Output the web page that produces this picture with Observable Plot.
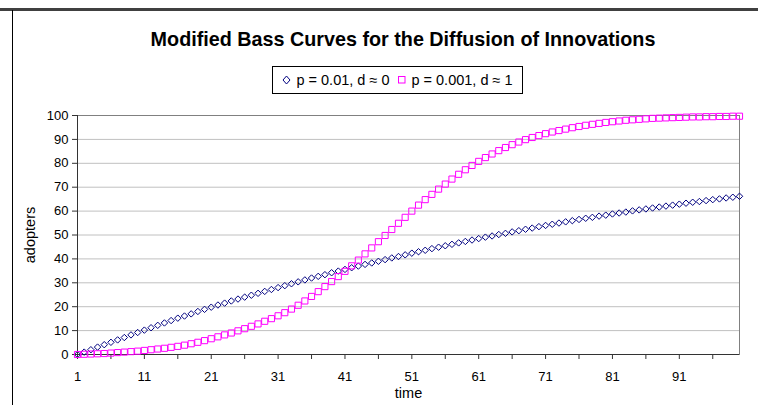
<!DOCTYPE html>
<html><head><meta charset="utf-8">
<script src="https://cdn.jsdelivr.net/npm/d3@7"></script>
<script src="https://cdn.jsdelivr.net/npm/@observablehq/plot@0.6"></script>
<style>
body{margin:0;background:#fff;font-family:"Liberation Sans",Arial,sans-serif;overflow:hidden;}
#wrap{position:relative;width:758px;height:405px;overflow:hidden;background:#fff;}
#topbar{position:absolute;left:0;top:8px;width:758px;height:3px;background:#404040;}
#leftbar{position:absolute;left:12px;top:10px;width:1px;height:395px;background:#000;}
#title{position:absolute;left:48px;width:710px;top:27px;text-align:center;font-weight:bold;font-size:19.75px;line-height:24px;color:#000;white-space:nowrap;}
#legend{position:absolute;left:272px;top:66px;width:249px;height:26px;border:1px solid #000;display:flex;align-items:center;justify-content:center;font-size:14.5px;color:#000;white-space:nowrap;}
#legend svg{margin:0 4px 0 0;}
#legend .item{display:flex;align-items:center;margin:0 4px;}
#chart{position:absolute;left:0;top:100px;}
</style></head>
<body>
<div id="wrap">
  <div id="topbar"></div>
  <div id="leftbar"></div>
  <div id="title"></div>
  <div id="legend"></div>
  <div id="chart"></div>
</div>
<script>
const titleText = "Modified Bass Curves for the Diffusion of Innovations";
const seriesNames = ["p = 0.01, d ≈ 0", "p = 0.001, d ≈ 1"];
const seriesColors = ["#000080", "#ff00ff"];
const time = d3.range(1, 101);
const seriesA = [
  0,1.0,2.0,3.1,4.1,5.1,6.1,7.1,8.2,9.2,
  10.2,11.2,12.2,13.2,14.2,15.2,16.1,17.0,18.0,18.9,
  19.8,20.7,21.5,22.4,23.2,24.0,24.8,25.6,26.4,27.2,
  28.0,28.8,29.6,30.4,31.2,32.0,32.7,33.4,34.2,34.9,
  35.6,36.3,37.0,37.7,38.3,39.0,39.7,40.4,41.0,41.7,
  42.4,43.0,43.6,44.3,44.9,45.5,46.1,46.7,47.3,47.9,
  48.5,49.1,49.6,50.2,50.7,51.3,51.8,52.4,52.9,53.5,
  54.0,54.5,55.0,55.5,56.0,56.5,57.0,57.4,57.9,58.3,
  58.8,59.2,59.6,60.1,60.5,60.9,61.3,61.7,62.1,62.5,
  62.9,63.3,63.7,64.0,64.4,64.8,65.1,65.5,65.8,66.2
];
const seriesB = [
  0,0.1,0.2,0.3,0.4,0.6,0.8,1.0,1.2,1.4,
  1.7,2.0,2.3,2.6,3.0,3.4,3.9,4.5,5.1,5.8,
  6.6,7.4,8.2,9.0,9.9,10.8,11.8,12.8,13.9,15.0,
  16.2,17.5,19.0,20.6,22.4,24.3,26.3,28.4,30.5,32.6,
  34.8,37.1,39.5,42.1,44.6,47.2,49.8,52.3,54.9,57.4,
  60.0,62.5,64.8,67.0,69.2,71.3,73.4,75.4,77.3,79.1,
  80.8,82.4,83.9,85.3,86.6,87.8,88.9,89.9,90.8,91.6,
  92.4,93.1,93.7,94.3,94.9,95.4,95.9,96.3,96.7,97.1,
  97.4,97.7,98.0,98.2,98.4,98.6,98.8,98.9,99.0,99.1,
  99.2,99.3,99.4,99.4,99.5,99.5,99.6,99.6,99.7,99.7
];
const yTicks = [0,10,20,30,40,50,60,70,80,90,100];
const xTickLabels = [1,11,21,31,41,51,61,71,81,91];
const xTickMarks = [1,6,11,16,21,26,31,36,41,46,51,56,61,66,71,76,81,86,91,96];
const yLabel = "adopters";
const xLabel = "time";

document.getElementById("title").textContent = titleText;

// legend
const leg = document.getElementById("legend");
const symPaths = [
  '<path d="M4.5,1 L8,5 L4.5,9 L1,5 Z" fill="none" stroke="#000080" stroke-width="1"/>',
  '<rect x="1.5" y="1.5" width="6.5" height="6.5" fill="none" stroke="#ff00ff" stroke-width="1"/>'
];
seriesNames.forEach((n, i) => {
  const it = document.createElement("span");
  it.className = "item";
  it.innerHTML = `<svg width="10" height="10">${symPaths[i]}</svg>`;
  const t = document.createElement("span");
  t.textContent = n;
  it.appendChild(t);
  leg.appendChild(it);
});

const dataA = time.map((t, i) => ({t, v: seriesA[i]}));
const dataB = time.map((t, i) => ({t, v: seriesB[i]}));

const chart = Plot.plot({
  width: 758, height: 305,
  marginLeft: 77, marginRight: 19, marginTop: 15, marginBottom: 51,
  x: {domain: [1, 100]},
  y: {domain: [0, 100]},
  style: {fontFamily: "'Liberation Sans', Arial, sans-serif", fontSize: "13px", color: "#000", background: "transparent", overflow: "visible"},
  marks: [
    Plot.gridY(yTicks.filter(d => d > 0 && d < 100), {stroke: "#c0c0c0", strokeOpacity: 1}),
    Plot.frame({stroke: "#808080"}),
    Plot.axisY(yTicks, {tickSize: 5, tickPadding: 4, label: null, stroke: "#333", fontSize: 13}),
    Plot.axisX(xTickMarks, {tickSize: 5, tickFormat: () => "", label: null, stroke: "#333"}),
    Plot.axisX(xTickLabels, {tickSize: 0, tickPadding: 17, label: null, fontSize: 13}),
    Plot.ruleX([1], {stroke: "#333"}),
    Plot.ruleY([0], {stroke: "#333"}),
    Plot.text([yLabel], {frameAnchor: "left", dx: -47, rotate: -90, fontSize: 14.5, textAnchor: "middle", lineAnchor: "middle"}),
    Plot.text([xLabel], {frameAnchor: "bottom", dy: 39, fontSize: 14.5, lineAnchor: "middle", textAnchor: "middle"}),
    Plot.dot(dataA, {x: "t", y: "v", symbol: "diamond2", r: 2.9, stroke: seriesColors[0], fill: "none", strokeWidth: 1}),
    Plot.dot(dataB, {x: "t", y: "v", symbol: "square2", r: 3.9, stroke: seriesColors[1], fill: "none", strokeWidth: 1})
  ]
});
document.getElementById("chart").appendChild(chart);
</script>
</body></html>
